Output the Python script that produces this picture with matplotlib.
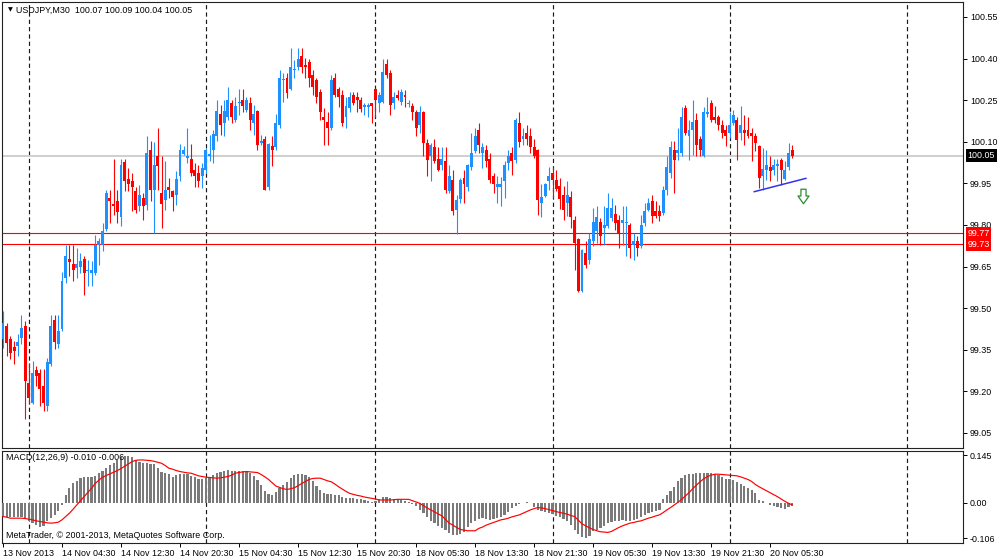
import matplotlib
matplotlib.use('Agg')
import matplotlib.pyplot as plt
import numpy as np
from matplotlib.path import Path
from matplotlib.transforms import blended_transform_factory

# ---------------- data (USDJPY M30, one entry per bar) ----------------
opens = [99.387, 99.437, 99.387, 99.359, 99.365, 99.393, 99.437, 99.229, 99.159, 99.277,
         99.267, 99.219, 99.147, 99.297, 99.459, 99.369, 99.425, 99.609, 99.679, 99.661,
         99.645, 99.649, 99.679, 99.633, 99.627, 99.627, 99.729, 99.729, 99.787, 99.897,
         99.877, 99.887, 99.827, 100.027, 99.967, 99.959, 99.921, 99.867, 99.897, 99.873,
         100.071, 99.927, 100.047, 99.917, 99.891, 99.937, 99.921, 99.909, 99.977, 100.057,
         100.041, 100.037, 99.999, 99.987, 99.975, 99.999, 100.047, 100.071, 100.119, 100.201,
         100.169, 100.189, 100.241, 100.179, 100.239, 100.251, 100.215, 100.241, 100.169, 100.211,
         100.095, 100.111, 99.937, 100.083, 100.081, 100.161, 100.321, 100.329, 100.289, 100.357,
         100.369, 100.409, 100.377, 100.389, 100.341, 100.321, 100.279, 100.189, 100.173, 100.149,
         100.329, 100.289, 100.269, 100.189, 100.221, 100.269, 100.261, 100.251, 100.227, 100.227,
         100.239, 100.289, 100.239, 100.245, 100.381, 100.347, 100.239, 100.269, 100.245, 100.269,
         100.237, 100.229, 100.209, 100.161, 100.209, 100.097, 100.047, 100.081, 100.037, 100.017,
         100.029, 99.921, 99.961, 99.855, 99.893, 99.969, 99.937, 100.009, 100.065, 100.141,
         100.059, 100.071, 100.037, 99.977, 99.937, 99.937, 99.957, 100.025, 100.059, 100.033,
         100.169, 100.109, 100.131, 100.119, 100.081, 100.071, 99.879, 99.903, 99.957, 99.989,
         99.961, 99.939, 99.909, 99.879, 99.901, 99.819, 99.749, 99.561, 99.699, 99.675,
         99.741, 99.777, 99.809, 99.789, 99.795, 99.825, 99.841, 99.819, 99.807, 99.807,
         99.801, 99.729, 99.741, 99.723, 99.807, 99.855, 99.887, 99.849, 99.849, 99.843,
         99.927, 99.987, 100.071, 100.059, 100.059, 100.221, 100.119, 100.143, 100.179, 100.109,
         100.049, 100.201, 100.239, 100.191, 100.191, 100.161, 100.143, 100.131, 100.167, 100.179,
         100.133, 100.143, 100.141, 100.131, 100.121, 100.083, 99.975, 99.997, 100.009, 99.999,
         100.013, 100.035, 99.965, 100.009, 100.07]

highs = [99.489, 99.447, 99.399, 99.381, 99.407, 99.475, 99.453, 99.303, 99.309, 99.291,
         99.279, 99.279, 99.321, 99.477, 99.477, 99.477, 99.629, 99.729, 99.729, 99.729,
         99.717, 99.699, 99.687, 99.675, 99.669, 99.765, 99.753, 99.807, 99.927, 99.927,
         100.037, 99.927, 100.037, 100.037, 100.005, 99.989, 99.937, 99.945, 99.915, 100.121,
         100.101, 100.099, 100.149, 100.047, 100.029, 99.969, 99.927, 99.993, 100.093, 100.083,
         100.149, 100.091, 100.023, 100.017, 100.025, 100.077, 100.125, 100.143, 100.251, 100.233,
         100.249, 100.299, 100.251, 100.261, 100.289, 100.289, 100.261, 100.261, 100.233, 100.215,
         100.125, 100.119, 100.095, 100.119, 100.201, 100.359, 100.349, 100.349, 100.437, 100.395,
         100.437, 100.437, 100.401, 100.397, 100.357, 100.329, 100.289, 100.221, 100.209, 100.341,
         100.349, 100.299, 100.287, 100.261, 100.281, 100.281, 100.281, 100.261, 100.241, 100.241,
         100.241, 100.293, 100.281, 100.397, 100.397, 100.359, 100.281, 100.287, 100.290, 100.287,
         100.251, 100.239, 100.215, 100.229, 100.210, 100.109, 100.097, 100.109, 100.081, 100.081,
         100.081, 100.017, 99.999, 99.909, 99.969, 99.999, 100.020, 100.131, 100.149, 100.169,
         100.097, 100.089, 100.059, 99.987, 99.977, 99.973, 100.029, 100.071, 100.081, 100.185,
         100.209, 100.149, 100.161, 100.149, 100.109, 100.075, 99.949, 99.952, 100.009, 100.009,
         99.999, 99.969, 99.939, 99.957, 99.921, 99.831, 99.752, 99.712, 99.741, 99.771,
         99.861, 99.867, 99.825, 99.867, 99.917, 99.897, 99.873, 99.837, 99.867, 99.867,
         99.807, 99.771, 99.759, 99.837, 99.879, 99.897, 99.909, 99.885, 99.873, 99.939,
         100.047, 100.101, 100.101, 100.149, 100.227, 100.233, 100.179, 100.251, 100.203, 100.119,
         100.227, 100.261, 100.251, 100.229, 100.197, 100.179, 100.161, 100.209, 100.215, 100.191,
         100.229, 100.197, 100.191, 100.149, 100.131, 100.089, 100.077, 100.071, 100.047, 100.037,
         100.037, 100.041, 100.029, 100.095, 100.09]

lows = [99.357, 99.327, 99.315, 99.297, 99.327, 99.369, 99.099, 99.159, 99.153, 99.219,
        99.147, 99.129, 99.129, 99.291, 99.351, 99.357, 99.417, 99.591, 99.615, 99.597,
        99.609, 99.627, 99.549, 99.579, 99.579, 99.620, 99.657, 99.705, 99.777, 99.807,
        99.837, 99.807, 99.795, 99.921, 99.921, 99.849, 99.843, 99.849, 99.819, 99.855,
        99.885, 99.771, 99.927, 99.789, 99.855, 99.897, 99.849, 99.873, 99.957, 100.053,
        100.023, 99.975, 99.937, 99.937, 99.933, 99.987, 100.029, 100.025, 100.101, 100.125,
        100.119, 100.179, 100.169, 100.173, 100.197, 100.209, 100.209, 100.141, 100.125, 100.071,
        100.089, 99.925, 99.925, 100.013, 100.071, 100.149, 100.245, 100.257, 100.285, 100.329,
        100.359, 100.347, 100.331, 100.299, 100.269, 100.239, 100.179, 100.089, 100.089, 100.143,
        100.261, 100.227, 100.157, 100.149, 100.209, 100.233, 100.209, 100.209, 100.197, 100.189,
        100.167, 100.189, 100.209, 100.239, 100.329, 100.197, 100.217, 100.251, 100.233, 100.227,
        100.227, 100.179, 100.119, 100.131, 100.047, 99.975, 99.957, 100.025, 99.993, 99.999,
        99.915, 99.915, 99.837, 99.769, 99.879, 99.879, 99.921, 99.999, 100.059, 100.059,
        100.005, 100.009, 99.953, 99.915, 99.879, 99.867, 99.897, 99.999, 99.981, 100.023,
        100.081, 100.089, 100.089, 100.059, 100.041, 99.837, 99.829, 99.901, 99.927, 99.897,
        99.921, 99.857, 99.819, 99.831, 99.789, 99.639, 99.557, 99.557, 99.645, 99.661,
        99.723, 99.735, 99.729, 99.729, 99.789, 99.813, 99.783, 99.717, 99.729, 99.687,
        99.681, 99.675, 99.687, 99.717, 99.795, 99.849, 99.807, 99.825, 99.813, 99.837,
        99.909, 99.969, 99.915, 100.035, 100.047, 100.125, 100.035, 100.053, 100.049, 100.047,
        100.045, 100.191, 100.173, 100.167, 100.143, 100.113, 100.083, 100.113, 100.161, 100.035,
        100.107, 100.089, 100.113, 100.029, 100.065, 99.933, 99.927, 99.963, 99.957, 99.981,
        99.957, 99.945, 99.963, 99.999, 100.04]

closes = [99.447, 99.375, 99.339, 99.345, 99.377, 99.427, 99.237, 99.177, 99.267, 99.255,
          99.207, 99.159, 99.307, 99.437, 99.377, 99.417, 99.599, 99.689, 99.668, 99.637,
          99.661, 99.669, 99.627, 99.639, 99.639, 99.729, 99.741, 99.779, 99.917, 99.885,
          99.867, 99.845, 100.017, 99.957, 99.949, 99.937, 99.855, 99.909, 99.867, 100.059,
          99.927, 100.017, 100.013, 99.877, 99.927, 99.927, 99.901, 99.967, 100.071, 100.071,
          100.047, 99.987, 99.975, 99.957, 100.007, 100.071, 100.055, 100.129, 100.211, 100.159,
          100.211, 100.249, 100.189, 100.229, 100.241, 100.229, 100.251, 100.179, 100.201, 100.089,
          100.101, 99.927, 100.093, 100.071, 100.169, 100.329, 100.323, 100.277, 100.369, 100.361,
          100.397, 100.369, 100.371, 100.329, 100.299, 100.261, 100.209, 100.179, 100.149, 100.321,
          100.269, 100.261, 100.167, 100.229, 100.261, 100.241, 100.251, 100.217, 100.229, 100.229,
          100.229, 100.251, 100.269, 100.353, 100.341, 100.233, 100.261, 100.257, 100.281, 100.261,
          100.239, 100.209, 100.149, 100.209, 100.097, 100.035, 100.089, 100.029, 99.999, 100.037,
          99.927, 99.977, 99.849, 99.891, 99.961, 99.949, 100.017, 100.059, 100.121, 100.089,
          100.081, 100.029, 99.963, 99.949, 99.949, 99.949, 100.017, 100.049, 100.029, 100.179,
          100.099, 100.121, 100.109, 100.081, 100.047, 99.889, 99.901, 99.949, 99.977, 99.963,
          99.929, 99.893, 99.855, 99.909, 99.829, 99.735, 99.561, 99.709, 99.657, 99.749,
          99.809, 99.829, 99.759, 99.801, 99.861, 99.861, 99.807, 99.771, 99.819, 99.809,
          99.717, 99.741, 99.717, 99.801, 99.849, 99.879, 99.831, 99.831, 99.833, 99.927,
          100.009, 100.081, 100.035, 100.071, 100.191, 100.131, 100.143, 100.173, 100.089, 100.069,
          100.209, 100.209, 100.179, 100.179, 100.161, 100.131, 100.119, 100.161, 100.197, 100.107,
          100.161, 100.131, 100.119, 100.119, 100.097, 99.969, 100.001, 100.017, 99.993, 100.017,
          100.021, 99.999, 99.999, 100.059, 100.05]

macd_hist = [-0.039, -0.041, -0.043, -0.043, -0.041, -0.041, -0.046, -0.056, -0.061, -0.066,
             -0.074, -0.069, -0.056, -0.046, -0.036, -0.023, -0.006, 0.024, 0.044, 0.061,
             0.067, 0.075, 0.078, 0.078, 0.078, 0.082, 0.090, 0.097, 0.105, 0.115,
             0.120, 0.130, 0.140, 0.142, 0.143, 0.140, 0.130, 0.125, 0.122, 0.120,
             0.118, 0.118, 0.105, 0.095, 0.091, 0.087, 0.080, 0.084, 0.087, 0.089,
             0.087, 0.083, 0.077, 0.073, 0.071, 0.074, 0.078, 0.085, 0.090, 0.093,
             0.098, 0.100, 0.097, 0.097, 0.098, 0.096, 0.093, 0.090, 0.083, 0.069,
             0.054, 0.037, 0.027, 0.024, 0.034, 0.044, 0.054, 0.064, 0.075, 0.085,
             0.088, 0.088, 0.085, 0.078, 0.067, 0.052, 0.039, 0.031, 0.027, 0.027,
             0.024, 0.024, 0.019, 0.016, 0.016, 0.014, 0.013, 0.011, 0.009, 0.007,
             0.004, 0.007, 0.011, 0.017, 0.019, 0.016, 0.013, 0.011, 0.009, 0.007,
             0.003, -0.003, -0.009, -0.021, -0.031, -0.043, -0.053, -0.061, -0.069, -0.076,
             -0.083, -0.092, -0.097, -0.097, -0.094, -0.088, -0.074, -0.061, -0.053, -0.048,
             -0.046, -0.048, -0.051, -0.049, -0.046, -0.043, -0.036, -0.026, -0.016, -0.009,
             -0.003, 0.001, 0.003, 0.001, -0.011, -0.021, -0.023, -0.026, -0.029, -0.033,
             -0.039, -0.043, -0.049, -0.053, -0.066, -0.083, -0.094, -0.104, -0.107, -0.100,
             -0.086, -0.081, -0.076, -0.069, -0.061, -0.059, -0.056, -0.053, -0.051, -0.053,
             -0.053, -0.051, -0.049, -0.041, -0.036, -0.029, -0.026, -0.024, -0.021, 0.011,
             0.024, 0.037, 0.049, 0.067, 0.075, 0.085, 0.087, 0.088, 0.090, 0.090,
             0.091, 0.091, 0.090, 0.088, 0.085, 0.078, 0.073, 0.073, 0.070, 0.062,
             0.058, 0.052, 0.045, 0.039, 0.029, 0.009, 0.007, 0.001, -0.006, -0.009,
             -0.011, -0.016, -0.019, -0.013, -0.010]

macd_signal = [-0.041, -0.043, -0.046, -0.046, -0.046, -0.046, -0.047, -0.049, -0.051, -0.054,
               -0.056, -0.058, -0.060, -0.061, -0.060, -0.058, -0.051, -0.041, -0.031, -0.019,
               -0.006, 0.007, 0.019, 0.032, 0.044, 0.059, 0.069, 0.078, 0.083, 0.088,
               0.093, 0.098, 0.104, 0.111, 0.118, 0.125, 0.129, 0.130, 0.130, 0.129,
               0.128, 0.126, 0.123, 0.120, 0.113, 0.105, 0.102, 0.098, 0.095, 0.093,
               0.091, 0.090, 0.086, 0.082, 0.080, 0.078, 0.077, 0.076, 0.075, 0.076,
               0.078, 0.080, 0.084, 0.090, 0.092, 0.094, 0.095, 0.094, 0.093, 0.092,
               0.086, 0.079, 0.071, 0.061, 0.051, 0.047, 0.043, 0.041, 0.043, 0.046,
               0.052, 0.059, 0.065, 0.071, 0.074, 0.075, 0.075, 0.071, 0.067, 0.064,
               0.057, 0.049, 0.042, 0.035, 0.029, 0.026, 0.023, 0.021, 0.018, 0.016,
               0.014, 0.012, 0.009, 0.009, 0.009, 0.009, 0.010, 0.011, 0.011, 0.011,
               0.011, 0.007, 0.003, -0.001, -0.008, -0.015, -0.021, -0.027, -0.033, -0.039,
               -0.050, -0.061, -0.067, -0.074, -0.080, -0.082, -0.084, -0.084, -0.084, -0.077,
               -0.073, -0.067, -0.063, -0.059, -0.055, -0.051, -0.049, -0.046, -0.042, -0.039,
               -0.036, -0.031, -0.026, -0.021, -0.017, -0.014, -0.015, -0.017, -0.020, -0.023,
               -0.026, -0.029, -0.031, -0.034, -0.038, -0.041, -0.052, -0.063, -0.069, -0.075,
               -0.080, -0.084, -0.087, -0.088, -0.089, -0.086, -0.080, -0.074, -0.069, -0.065,
               -0.061, -0.059, -0.056, -0.054, -0.050, -0.046, -0.043, -0.039, -0.036, -0.029,
               -0.021, -0.014, -0.006, 0.002, 0.011, 0.021, 0.031, 0.043, 0.054, 0.064,
               0.073, 0.080, 0.084, 0.087, 0.087, 0.086, 0.085, 0.084, 0.083, 0.082,
               0.079, 0.075, 0.071, 0.065, 0.056, 0.049, 0.043, 0.037, 0.031, 0.025,
               0.019, 0.012, 0.005, -0.001, -0.006]

time_label_bars = [0, 16, 32, 48, 64, 80, 96, 112, 128, 144, 160, 176, 192, 208]
time_labels = ['13 Nov 2013', '14 Nov 04:30', '14 Nov 12:30', '14 Nov 20:30',
               '15 Nov 04:30', '15 Nov 12:30', '15 Nov 20:30', '18 Nov 05:30',
               '18 Nov 13:30', '18 Nov 21:30', '19 Nov 05:30', '19 Nov 13:30',
               '19 Nov 21:30', '20 Nov 05:30']
day_separator_bars = [7, 55, 101, 149, 197, 245]
price_ticks = [100.55, 100.40, 100.25, 100.10, 99.95, 99.80, 99.65, 99.50, 99.35, 99.20, 99.05]
macd_ticks = [0.145, 0.0, -0.106]
macd_tick_labels = ['0.145', '0.00', '-0.106']
bid_price = 100.05
level_lines = [99.77, 99.73]
trend_bars = [203.7, 217.7]
trend_prices = [99.920, 99.968]
arrow_bar = 216.8
arrow_price = 99.906
title_text = 'USDJPY,M30  100.07 100.09 100.04 100.05'
macd_text = 'MACD(12,26,9) -0.010 -0.006'
copyright_text = 'MetaTrader, \u00a9 2001-2013, MetaQuotes Software Corp.'

# ---------------- drawing ----------------
FONT = ['Liberation Sans', 'DejaVu Sans']
plt.rcParams['font.family'] = FONT
FS = 6.4
BULL = '#1E90FF'
BEAR = '#FF0000'

W, H = 1000, 559
fig = plt.figure(figsize=(W / 100, H / 100), dpi=100, facecolor='white')
ax = fig.add_axes([2 / W, 1 - 448 / H, 961 / W, 446 / H])
ax2 = fig.add_axes([2 / W, 1 - 543 / H, 961 / W, 92 / H])

o = np.array(opens); h = np.array(highs); l = np.array(lows); c = np.array(closes)
idx = np.arange(len(o))
up = c >= o
cols = np.where(up, BULL, BEAR)

ax.vlines(idx, l, h, colors=cols, linewidth=0.8, zorder=3)
body_bottom = np.minimum(o, c)
body_h = np.maximum(np.abs(c - o), 0.004)
ax.bar(idx, body_h, bottom=body_bottom, width=0.8, color=cols, linewidth=0, zorder=4)

ax.axhline(bid_price, color='#CFCFCF', linewidth=1.4, zorder=2)
for lv in level_lines:
    ax.axhline(lv, color='#FF0000', linewidth=0.8, zorder=2)

for b in day_separator_bars:
    for a in (ax, ax2):
        a.axvline(b, color='#1A1A1A', linewidth=0.85, linestyle=(0, (3.6, 2.6)), zorder=1)

ax.plot(trend_bars, trend_prices, color='#3333EE', linewidth=1.1, zorder=5)

arrow_path = Path([(-0.35, 1.0), (0.35, 1.0), (0.35, 0.07), (0.76, 0.07), (0.0, -1.0),
                   (-0.76, 0.07), (-0.35, 0.07), (-0.35, 1.0)],
                  [Path.MOVETO] + [Path.LINETO] * 6 + [Path.CLOSEPOLY])
ax.plot([arrow_bar], [arrow_price], marker=arrow_path, markersize=10.5,
        markerfacecolor='white', markeredgecolor='#2E8B2E', markeredgewidth=0.9,
        linestyle='none', zorder=6)

xl = (-0.27, 260.3)
for a in (ax, ax2):
    a.set_xlim(*xl)
    for s in a.spines.values():
        s.set_color('#222222')
        s.set_linewidth(0.8)

ax.set_ylim(98.9957, 100.604)
ax.yaxis.tick_right()
ax.set_yticks(price_ticks)
ax.set_yticklabels(['%.2f' % t for t in price_ticks])
ax.tick_params(axis='y', direction='out', length=3, width=0.7, pad=2,
               labelsize=FS, colors='black')
ax.set_xticks([])

trans = blended_transform_factory(ax.transAxes, ax.transData)
ax.text(1.0045, bid_price, '%.2f' % bid_price, transform=trans, fontsize=FS, color='white',
        ha='left', va='center', zorder=10,
        bbox=dict(boxstyle='square,pad=0.2', fc='black', ec='none'))
for lv in level_lines:
    ax.text(1.0045, lv, '%.2f' % lv, transform=trans, fontsize=FS, color='white',
            ha='left', va='center', zorder=10,
            bbox=dict(boxstyle='square,pad=0.2', fc='#FF0000', ec='none'))

# MACD panel
ax2.bar(np.arange(len(macd_hist)), macd_hist, width=0.6, color='#7A7A7A', linewidth=0, zorder=3)
ax2.plot(np.arange(len(macd_signal)), macd_signal, color='#FF0000', linewidth=0.85, zorder=4)
ax2.set_ylim(-0.121, 0.1571)
ax2.yaxis.tick_right()
ax2.set_yticks(macd_ticks)
ax2.set_yticklabels(macd_tick_labels)
ax2.tick_params(axis='y', direction='out', length=3, width=0.7, pad=2,
                labelsize=FS, colors='black')
ax2.set_xticks(time_label_bars)
ax2.set_xticklabels(time_labels, ha='left')
ax2.tick_params(axis='x', direction='out', length=3, width=0.7, pad=1.5,
                labelsize=FS, colors='black')

ax2.text(4 / 961, 1 - 7 / 92, macd_text, transform=ax2.transAxes, fontsize=FS,
         ha='left', va='center', color='black', zorder=10)
ax2.text(4 / 961, 1 - 85 / 92, copyright_text, transform=ax2.transAxes, fontsize=FS,
         ha='left', va='center', color='black', zorder=10)

fig.text(16 / W, 1 - 10 / H, title_text, fontsize=FS, ha='left', va='center', color='black')
fig.text(7.5 / W, 1 - 10 / H, '\u25bc', fontsize=4.5, ha='left', va='center', color='black',
         family=['DejaVu Sans'])

fig.savefig('out.png', dpi=100, facecolor='white')
